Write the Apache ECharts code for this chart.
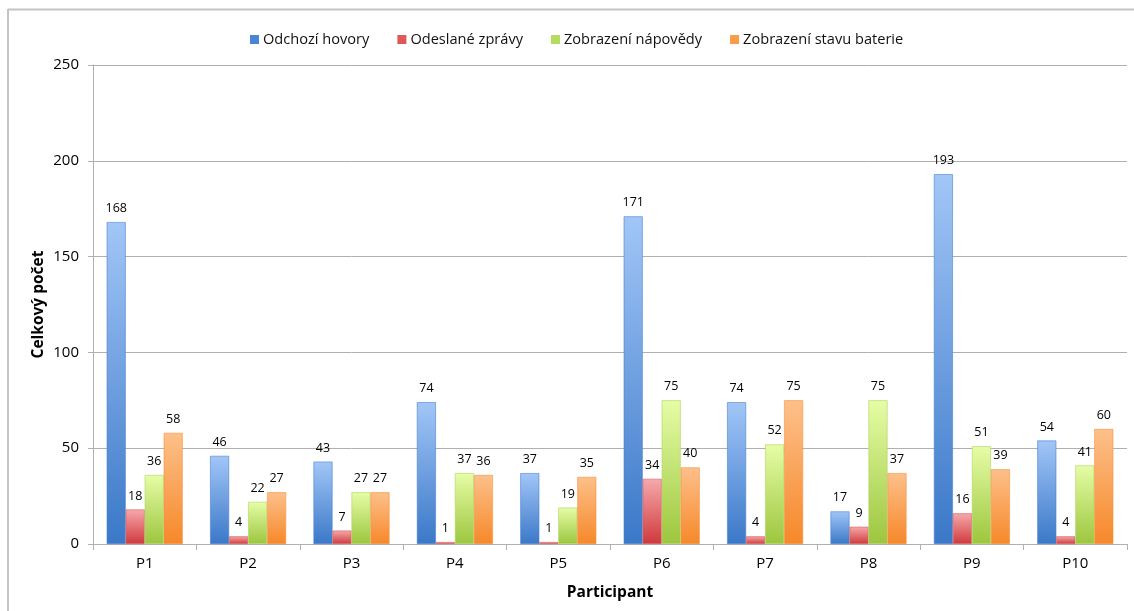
<!DOCTYPE html>
<html>
<head>
<meta charset="utf-8">
<script src="https://cdn.jsdelivr.net/npm/echarts@6/dist/echarts.min.js"></script>
<style>
  html, body { margin: 0; padding: 0; background: #fff; }
  #chart { width: 1134px; height: 611px; }
</style>
</head>
<body>
<div id="chart"></div>
<script>
// Participants on the category axis
const categories = ['P1', 'P2', 'P3', 'P4', 'P5', 'P6', 'P7', 'P8', 'P9', 'P10'];

// Event counts per participant
const odchoziHovory = [168, 46, 43, 74, 37, 171, 74, 17, 193, 54];
const odeslaneZpravy = [18, 4, 7, 1, 1, 34, 4, 9, 16, 4];
const zobrazeniNapovedy = [36, 22, 27, 37, 19, 75, 52, 75, 51, 41];
const zobrazeniBaterie = [58, 27, 27, 36, 35, 40, 75, 37, 39, 60];

const seriesNames = ['Odchozí hovory', 'Odeslané zprávy', 'Zobrazení nápovědy', 'Zobrazení stavu baterie'];
const yTicks = { min: 0, max: 250, interval: 50 };

const FONT = '"Open Sans", "Noto Sans", sans-serif';

function grad(top, bottom) {
  return new echarts.graphic.LinearGradient(0, 0, 0, 1, [
    { offset: 0, color: top },
    { offset: 1, color: bottom }
  ]);
}

const palette = [
  { fill: grad('#a2c6f7', '#3a78c8'), border: '#4a82cc', legend: '#4a86d6' },
  { fill: grad('#f6a9ac', '#cf393c'), border: '#d65a5d', legend: '#e0575a' },
  { fill: grad('#e6fda6', '#9cc63e'), border: '#b0d462', legend: '#b4dc5e' },
  { fill: grad('#fdc08a', '#f6882a'), border: '#f5923c', legend: '#fa9c4a' }
];

const dataSets = [odchoziHovory, odeslaneZpravy, zobrazeniNapovedy, zobrazeniBaterie];

const chart = echarts.init(document.getElementById('chart'), null, { renderer: 'canvas' });

chart.setOption({
  backgroundColor: '#ffffff',
  animation: false,
  textStyle: { fontFamily: FONT },
  graphic: [
    // chart frame (left and top edges)
    { type: 'line', shape: { x1: 8, y1: 9.5, x2: 1134, y2: 9.5 }, style: { stroke: '#c4c4c4', lineWidth: 2 } },
    { type: 'line', shape: { x1: 8, y1: 9, x2: 8, y2: 611 }, style: { stroke: '#c4c4c4', lineWidth: 2 } }
  ],
  legend: {
    top: 27,
    left: 245,
    itemWidth: 9,
    itemHeight: 9,
    itemGap: 28,
    icon: 'rect',
    textStyle: { fontFamily: FONT, fontSize: 14.6, color: '#111', padding: [0, 0, 0, -1] },
    data: seriesNames.map((n, i) => ({ name: n, itemStyle: { color: palette[i].legend, borderWidth: 0 } }))
  },
  grid: { left: 93, right: 7, top: 65, bottom: 67, containLabel: false },
  xAxis: {
    type: 'category',
    data: categories,
    name: 'Participant',
    nameLocation: 'middle',
    nameGap: 41,
    nameTextStyle: { fontFamily: FONT, fontSize: 15.5, fontWeight: 'bold', color: '#000' },
    axisLine: { lineStyle: { color: '#b0b0b0', width: 1 } },
    axisTick: { show: true, length: 6, lineStyle: { color: '#b0b0b0' } },
    axisLabel: { fontFamily: FONT, fontSize: 15, color: '#000', margin: 12 }
  },
  yAxis: {
    type: 'value',
    min: yTicks.min,
    max: yTicks.max,
    interval: yTicks.interval,
    name: 'Celkový počet',
    nameLocation: 'middle',
    nameGap: 46,
    nameMoveOverlap: false,
    nameRotate: 90,
    nameTextStyle: { fontFamily: FONT, fontSize: 15.5, fontWeight: 'bold', color: '#000' },
    axisLine: { show: true, lineStyle: { color: '#b0b0b0', width: 1 } },
    axisTick: { show: true, length: 5, lineStyle: { color: '#b0b0b0' } },
    axisLabel: { fontFamily: FONT, fontSize: 15, color: '#000', margin: 14 },
    splitLine: { show: true, lineStyle: { color: '#b0b0b0', width: 1 } }
  },
  series: dataSets.map((d, i) => ({
    name: seriesNames[i],
    type: 'bar',
    data: d,
    barWidth: 19,
    barGap: '0%',
    itemStyle: { color: palette[i].fill, borderColor: palette[i].border, borderWidth: 0.6 },
    label: {
      show: true,
      position: 'top',
      distance: 7,
      fontFamily: FONT,
      fontSize: 12.5,
      color: '#000'
    }
  }))
});
</script>
</body>
</html>
